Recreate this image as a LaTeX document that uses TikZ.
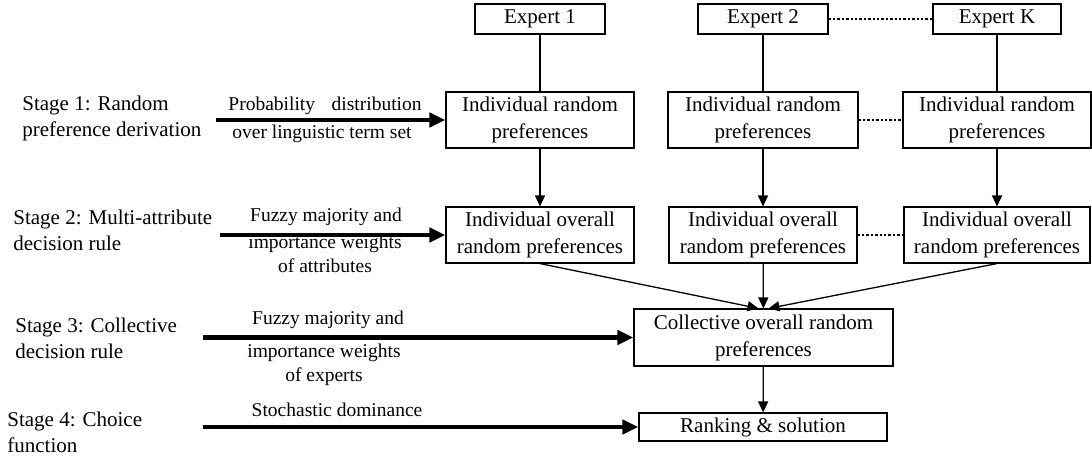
\documentclass[tikz,border=0pt]{standalone}
\usepackage{fontspec}
\setmainfont{Liberation Serif}
\usetikzlibrary{arrows.meta}
\newcommand{\boxfont}{\fontsize{21}{27}\selectfont}
\newcommand{\stagefont}{\fontsize{21}{26}\selectfont}
\newcommand{\labelfont}{\fontsize{19.5}{24}\selectfont}
\begin{document}
\begin{tikzpicture}[x=1pt,y=-1pt,thick,>={Triangle[length=11,width=10]},
        box node/.style={draw,line width=1.1,font=\boxfont,align=center,inner sep=0,minimum height=56},
        expert node/.style={box node,minimum width=130,minimum height=30},
        stage node/.style={anchor=west,align=left,font=\stagefont,inner sep=0},
        label node/.style={align=center,font=\labelfont,inner sep=0}]
        \useasboundingbox (0,0) rectangle (1092,458);

        \node[expert node] at (540, 19) (e1) {Expert 1};
        \node[expert node] at (763, 19) (e2) {Expert 2};
        \node[expert node, minimum width=128] at (997, 19) (eK) {Expert K};

        \node[box node, minimum width=188] at (540, 120) (r1) {Individual random\\preferences};
        \node[box node, minimum width=190] at (763, 120) (r2) {Individual random\\preferences};
        \node[box node, minimum width=188] at (997, 120) (rK) {Individual random\\preferences};

        \node[box node, minimum width=188] at (540, 235) (o1) {Individual overall\\random preferences};
        \node[box node, minimum width=188] at (763, 235) (o2) {Individual overall\\random preferences};
        \node[box node, minimum width=186] at (997, 235) (oK) {Individual overall\\random preferences};

        \node[box node, minimum width=259, minimum height=57] at (763.5, 337.5) (coll) {Collective overall random\\preferences};
        \node[box node, minimum width=248, minimum height=28] at (763, 427) (rank) {Ranking \& solution};

        \node[stage node] at (22, 118) (s1) {Stage 1: Random\\preference derivation};
        \node[stage node] at (13, 230) (s2) {Stage 2: Multi-attribute\\decision rule};
        \node[stage node] at (15, 338) (s3) {Stage 3: Collective\\decision rule};
        \node[stage node] at (7, 432) (s4) {Stage 4: Choice\\function};

        \coordinate (a1) at (216, 120);
        \coordinate (a2) at (220, 235);
        \coordinate (a3) at (203, 337.5);
        \coordinate (a4) at (203, 427);

        \node[label node] at (325, 106) (p1a) {Probability\hspace{0.6em} distribution};
        \node[label node] at (322, 134) (p1b) {over linguistic term set};
        \node[label node] at (326, 217) (p2a) {Fuzzy majority and};
        \node[label node] at (325, 254) (p2b) {importance weights\\of attributes};
        \node[label node] at (328, 320) (p3a) {Fuzzy majority and};
        \node[label node] at (324, 365) (p3b) {importance weights\\of experts};
        \node[label node] at (337, 410) (p4a) {Stochastic dominance};

        \path[line width=1.3]
            (e1) edge (r1)
            (e2) edge (r2)
            (eK) edge (rK)
            (r1) edge[->] (o1)
            (r2) edge[->] (o2)
            (rK) edge[->] (oK)
            (o1.south) edge[->] ([xshift=-5]coll.north)
            (o2) edge[->] (coll)
            (oK.south) edge[->] ([xshift=5]coll.north)
            (coll) edge[->] (rank)
            ;

        \path[line width=4.2, >={Triangle[length=16,width=14]}]
            (a1) edge[->] (r1)
            (a2) edge[->] (o1)
            (a3) edge[->] (coll)
            (a4) edge[->] (rank)
            ;

        \path[line width=2.4, dash pattern=on 2.4 off 2]
            (e2) edge (eK)
            (r2) edge (rK)
            (o2) edge (oK)
            ;
        \end{tikzpicture}
\end{document}
